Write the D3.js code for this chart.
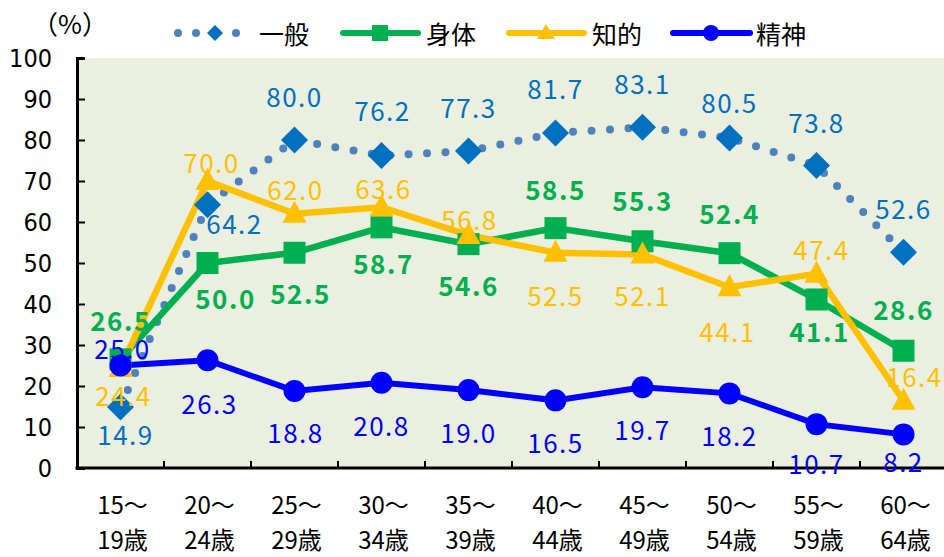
<!DOCTYPE html>
<html><head><meta charset="utf-8">
<script src="https://cdn.jsdelivr.net/npm/d3@7"></script>
<style>body{margin:0;background:#fff}svg{display:block}</style>
</head><body>
<svg id="c" width="944" height="557"></svg>
<script>
const categories1 = ["15～","20～","25～","30～","35～","40～","45～","50～","55～","60～"];
const categories2 = ["19歳","24歳","29歳","34歳","39歳","44歳","49歳","54歳","59歳","64歳"];
const seriesNames = ["一般","身体","知的","精神"];
const ippan  = [14.9, 64.2, 80.0, 76.2, 77.3, 81.7, 83.1, 80.5, 73.8, 52.6];
const shintai= [26.5, 50.0, 52.5, 58.7, 54.6, 58.5, 55.3, 52.4, 41.1, 28.6];
const chiteki= [24.4, 70.0, 62.0, 63.6, 56.8, 52.5, 52.1, 44.1, 47.4, 16.4];
const seishin= [25.0, 26.3, 18.8, 20.8, 19.0, 16.5, 19.7, 18.2, 10.7, 8.2];
const yTicks = [0,10,20,30,40,50,60,70,80,90,100];

// label offsets (dx, dy) relative to marker
const labelOff = {
  ippan:  [[5,27],[27,18],[0,-45],[1,-46],[0,-45],[0,-46],[0,-45],[0,-36],[0,-44],[0,-45]],
  shintai:[[0,-40],[18,34],[6,40],[2,35],[0,40],[0,-40],[0,-42],[0,-41],[3,31],[0,-42]],
  chiteki:[[3,27],[4,-20],[1,-25],[2,-20],[1,-17],[0,42],[0,40],[-2,43],[5,-25],[11,-25]],
  seishin:[[2,-18],[2,42],[1,41],[0,42],[0,41],[0,41],[0,41],[0,41],[0,38],[0,26]]
};

const svg = d3.select("#c");
const L = 77, R = 947, T = 58, B = 468;
const x = d3.scaleBand().domain(d3.range(10)).range([L, R]);
const y = d3.scaleLinear().domain([0,100]).range([B, T]);
const cx = i => x(i) + x.bandwidth()/2;

svg.append("rect").attr("x", L).attr("y", T).attr("width", 944 - L).attr("height", B - T).attr("fill", "#EBEFDF");

// y axis
const yAxis = d3.axisLeft(y).tickValues(yTicks).tickSize(-8).tickPadding(25).tickFormat(d3.format("d"));
const gy = svg.append("g").attr("transform", `translate(${L},0)`).call(yAxis);
gy.select(".domain").attr("stroke", "#000").attr("stroke-width", 3);
gy.selectAll(".tick line").attr("stroke", "#000").attr("stroke-width", 2);
gy.selectAll(".tick text").attr("font-family", "DejaVu Sans Condensed, Noto Sans CJK JP").attr("font-size", 25).attr("fill", "#000");

// x axis
const gx = svg.append("g").attr("transform", `translate(0,${B})`);
gx.append("line").attr("x1", L - 1.5).attr("x2", 944).attr("stroke", "#000").attr("stroke-width", 3);
gx.selectAll("line.t").data(d3.range(1,10)).join("line").attr("class","t")
  .attr("x1", i => x(i)).attr("x2", i => x(i)).attr("y1", 0).attr("y2", -7)
  .attr("stroke", "#000").attr("stroke-width", 2);
gx.selectAll("text.xa1").data(categories1).join("text").attr("class","xa1")
  .attr("x", (d,i) => cx(i) + 2).attr("y", 46).attr("text-anchor","middle")
  .attr("font-family","Noto Sans CJK JP").attr("font-size",24).text(d => d);
gx.selectAll("text.xa2").data(categories2).join("text").attr("class","xa2")
  .attr("x", (d,i) => cx(i) + 2).attr("y", 81).attr("text-anchor","middle")
  .attr("font-family","Noto Sans CJK JP").attr("font-size",24).text(d => d);

const line = d3.line().x((d,i) => cx(i)).y(d => y(d));

svg.append("path").datum(ippan).attr("d", line).attr("fill","none")
  .attr("stroke","#4F81BD").attr("stroke-width",8).attr("stroke-linecap","round").attr("stroke-dasharray","0 18.5");
svg.append("path").datum(shintai).attr("d", line).attr("fill","none").attr("stroke","#00B050").attr("stroke-width",6.5);
svg.append("path").datum(chiteki).attr("d", line).attr("fill","none").attr("stroke","#FFC000").attr("stroke-width",6.5);
svg.append("path").datum(seishin).attr("d", line).attr("fill","none").attr("stroke","#0000FF").attr("stroke-width",6);

const diamondPath = s => `M0,${-s}L${s},0L0,${s}L${-s},0Z`;

svg.selectAll("path.m1").data(ippan).join("path").attr("class","m1")
  .attr("transform",(d,i)=>`translate(${cx(i)},${y(d)})`).attr("d", diamondPath(13.5)).attr("fill","#0070C0");
svg.selectAll("rect.m2").data(shintai).join("rect").attr("class","m2")
  .attr("x",(d,i)=>cx(i)-11).attr("y",d=>y(d)-11).attr("width",22).attr("height",22).attr("fill","#00B050");
svg.selectAll("path.m3").data(chiteki).join("path").attr("class","m3")
  .attr("transform",(d,i)=>`translate(${cx(i)},${y(d)})`).attr("d","M0,-13L12,9L-12,9Z").attr("fill","#FFC000");
svg.selectAll("circle.m4").data(seishin).join("circle").attr("class","m4")
  .attr("cx",(d,i)=>cx(i)).attr("cy",d=>y(d)).attr("r",11).attr("fill","#0000FF");

function labels(data, offs, color, weight, cls) {
  svg.selectAll("text."+cls).data(data).join("text").attr("class",cls)
    .attr("x",(d,i)=>cx(i)+offs[i][0]).attr("y",(d,i)=>y(d)+offs[i][1])
    .attr("text-anchor","middle").attr("dominant-baseline","central")
    .attr("font-family","Noto Sans CJK JP").attr("font-size",26).attr("font-weight",weight)
    .attr("letter-spacing",1.5).attr("fill",color).text(d=>d.toFixed(1));
}
labels(ippan, labelOff.ippan, "#0070C0", 400, "dl1");
labels(shintai, labelOff.shintai, "#00B050", 700, "dl2");
labels(chiteki, labelOff.chiteki, "#FFC000", 400, "dl3");
labels(seishin, labelOff.seishin, "#0000FF", 400, "dl4");

// legend
svg.append("text").attr("x",70).attr("y",22).attr("text-anchor","middle").attr("dominant-baseline","central")
  .attr("font-family","Noto Sans CJK JP").attr("font-size",26).text("（%）");
const lg = svg.append("g").attr("transform","translate(0,33)");
[178,196,236].forEach(px => lg.append("circle").attr("cx",px).attr("cy",0).attr("r",4).attr("fill","#4F81BD"));
lg.append("path").attr("transform","translate(215,0)").attr("d",diamondPath(8)).attr("fill","#0070C0");
lg.append("line").attr("x1",343).attr("x2",418).attr("stroke","#00B050").attr("stroke-width",6).attr("stroke-linecap","round");
lg.append("rect").attr("x",372).attr("y",-8).attr("width",16).attr("height",16).attr("fill","#00B050");
lg.append("line").attr("x1",509).attr("x2",584).attr("stroke","#FFC000").attr("stroke-width",6).attr("stroke-linecap","round");
lg.append("path").attr("transform","translate(546,0)").attr("d","M0,-9L9,6L-9,6Z").attr("fill","#FFC000");
lg.append("line").attr("x1",673).attr("x2",750).attr("stroke","#0000FF").attr("stroke-width",6).attr("stroke-linecap","round");
lg.append("circle").attr("cx",711).attr("cy",0).attr("r",8).attr("fill","#0000FF");
const lx = [259, 426, 592, 756];
lg.selectAll("text").data(seriesNames).join("text").attr("x",(d,i)=>lx[i]).attr("y",0)
  .attr("dominant-baseline","central").attr("font-family","Noto Sans CJK JP").attr("font-size",25).text(d=>d);
</script>
</body></html>
